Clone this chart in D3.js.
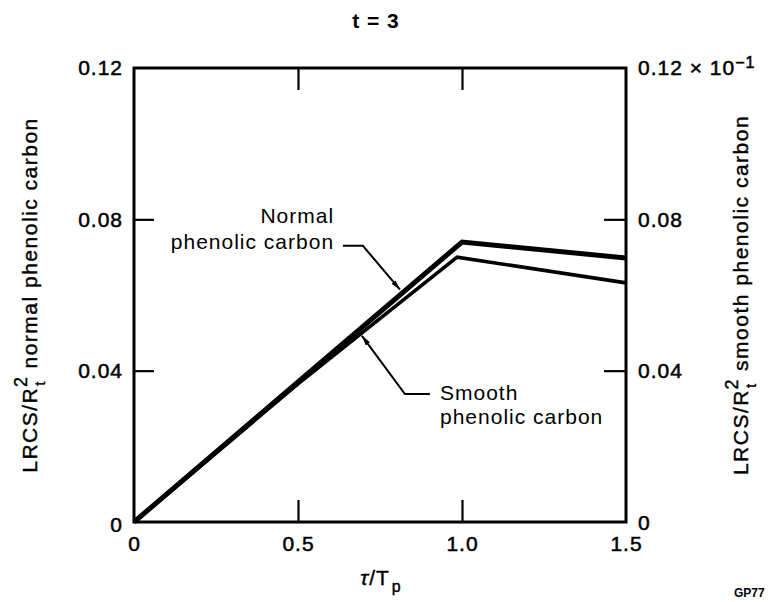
<!DOCTYPE html>
<html><head><meta charset="utf-8">
<script src="https://cdn.jsdelivr.net/npm/d3@7"></script>
<style>
body{margin:0;background:#fff}
text{font-family:"Liberation Sans",Arial,Helvetica,sans-serif;fill:#000}
</style>
</head><body>
<svg id="chart" width="768" height="602"></svg>
<script>
// ---- data ----
const normalTau  = [0, 0.5, 1.0, 1.5];
const normalLRCS = [0, 0.0370, 0.0740, 0.0698];
const smoothTau  = [0, 0.5, 0.985, 1.5];
const smoothLRCS = [0, 0.0365, 0.0700, 0.0632];
const xTicks = [0, 0.5, 1.0, 1.5];
const xTickLabels = ["0", "0.5", "1.0", "1.5"];
const yTicks = [0, 0.04, 0.08, 0.12];
const yTickLabels = ["0", "0.04", "0.08", "0.12"];
const y2TickLabels = ["0", "0.04", "0.08", "0.12 × 10"];
const y2Exponent = "−1";
const titleText = "t = 3";
const normalLabel = ["Normal", "phenolic carbon"];
const smoothLabel = ["Smooth", "phenolic carbon"];

// annotation anchors, in data units
const annotations = [
  {lines: normalLabel, anchor: "end", tx: 0.610, ty: [0.0790, 0.0721],
   path: [[0.637, 0.0730], [0.698, 0.0730], [0.811, 0.0614]]},
  {lines: smoothLabel, anchor: "start", tx: 0.933, ty: [0.0322, 0.0259],
   path: [[0.902, 0.0338], [0.826, 0.0338], [0.695, 0.0492]]}
];

// ---- layout ----
const svg = d3.select("#chart");
const x = d3.scaleLinear().domain([0, 1.5]).range([134, 626]);
const y = d3.scaleLinear().domain([0, 0.12]).range([522, 68]);
const FS = 21;

svg.append("defs").append("marker")
  .attr("id", "arr").attr("viewBox", "0 -4 10 8").attr("refX", 10).attr("refY", 0)
  .attr("markerWidth", 10).attr("markerHeight", 8).attr("markerUnits", "userSpaceOnUse")
  .attr("orient", "auto")
  .append("path").attr("d", "M0,-2.6L10,0L0,2.6Z").attr("fill", "#000");

function styleAxis(g, hideEnds) {
  g.attr("font-size", null).attr("font-family", null);
  g.select(".domain").remove();
  g.selectAll(".tick line").attr("stroke", "#000").attr("stroke-width", 2.2)
    .attr("opacity", d => hideEnds && (d === 0 || d === 0.12 || d === 1.5) ? 0 : 1);
  g.selectAll(".tick text").attr("font-size", FS).attr("letter-spacing", "1px")
    .attr("stroke", "#000").attr("stroke-width", 0.5);
}

// axes
svg.append("g").attr("transform", `translate(${x(0)},0)`)
  .call(d3.axisLeft(y).tickValues(yTicks).tickFormat((d, i) => yTickLabels[i])
    .tickSizeInner(-20).tickSizeOuter(0).tickPadding(11))
  .call(g => styleAxis(g, true))
  .call(g => g.selectAll(".tick text").filter(d => d === 0).attr("dy", "0.45em"));

svg.append("g").attr("transform", `translate(${x(1.5)},0)`)
  .call(d3.axisRight(y).tickValues(yTicks).tickFormat((d, i) => y2TickLabels[i])
    .tickSizeInner(-22).tickSizeOuter(0).tickPadding(12))
  .call(g => styleAxis(g, true))
  .call(g => g.selectAll(".tick text").filter(d => d === 0).attr("dy", "0.35em"))
  .call(g => g.selectAll(".tick text").filter(d => d === 0.12)
    .append("tspan").attr("dy", "-7").attr("font-size", 16).text(y2Exponent));

svg.append("g").attr("transform", `translate(0,${y(0)})`)
  .call(d3.axisBottom(x).tickValues(xTicks).tickFormat((d, i) => xTickLabels[i])
    .tickSizeInner(-22).tickSizeOuter(0).tickPadding(14))
  .call(g => styleAxis(g, true));

svg.append("g").attr("transform", `translate(0,${y(0.12)})`)
  .call(d3.axisTop(x).tickValues(xTicks).tickFormat("")
    .tickSizeInner(-22).tickSizeOuter(0))
  .call(g => styleAxis(g, true));

// frame
svg.append("rect")
  .attr("x", x(0)).attr("y", y(0.12))
  .attr("width", x(1.5) - x(0)).attr("height", y(0) - y(0.12))
  .attr("fill", "none").attr("stroke", "#000").attr("stroke-width", 3);

// series
const line = d3.line().x(d => x(d[0])).y(d => y(d[1]));
const normalData = normalTau.map((t, i) => [t, normalLRCS[i]]);
const smoothData = smoothTau.map((t, i) => [t, smoothLRCS[i]]);
svg.append("path").datum(smoothData).attr("d", line)
  .attr("fill", "none").attr("stroke", "#000").attr("stroke-width", 3.6);
svg.append("path").datum(normalData).attr("d", line)
  .attr("fill", "none").attr("stroke", "#000").attr("stroke-width", 5);

// annotations
annotations.forEach(a => {
  a.lines.forEach((t, i) => {
    svg.append("text").attr("x", x(a.tx)).attr("y", y(a.ty[i]))
      .attr("text-anchor", a.anchor).attr("font-size", FS)
      .attr("letter-spacing", "1px").text(t);
  });
  svg.append("path").datum(a.path).attr("d", line)
    .attr("fill", "none").attr("stroke", "#000").attr("stroke-width", 2)
    .attr("marker-end", "url(#arr)");
});

// title
svg.append("text").attr("x", 376).attr("y", 28).attr("text-anchor", "middle")
  .attr("font-size", FS).attr("font-weight", "bold").attr("letter-spacing", "1px")
  .text(titleText);

// y axis labels
function yLabel(cx, rest) {
  const t = svg.append("text")
    .attr("transform", `translate(${cx},${(y(0) + y(0.12)) / 2}) rotate(-90)`)
    .attr("text-anchor", "middle").attr("font-size", FS).attr("letter-spacing", "1.5px")
    .attr("stroke", "#000").attr("stroke-width", 0.4);
  t.append("tspan").text("LRCS/R");
  t.append("tspan").attr("font-size", 15).attr("dy", 8).attr("dx", 1).text("t");
  t.append("tspan").attr("font-size", 18).attr("dy", -18).attr("dx", -7).text("2");
  t.append("tspan").attr("font-size", FS).attr("dy", 10).attr("dx", 7).text(rest);
}
yLabel(37, "normal phenolic carbon");
yLabel(748, "smooth phenolic carbon");

// x axis label
const xl = svg.append("text").attr("x", 381).attr("y", 585).attr("text-anchor", "middle")
  .attr("font-size", FS).attr("letter-spacing", "1px")
  .attr("stroke", "#000").attr("stroke-width", 0.4);
xl.append("tspan").attr("font-style", "italic").text("τ");
xl.append("tspan").text("/T");
xl.append("tspan").attr("font-size", 16).attr("dy", 7).attr("dx", 2).text("p");

// figure id
svg.append("text").attr("x", 734).attr("y", 597).attr("font-size", 12)
  .attr("font-weight", "bold").text("GP77");
</script>
</body></html>
